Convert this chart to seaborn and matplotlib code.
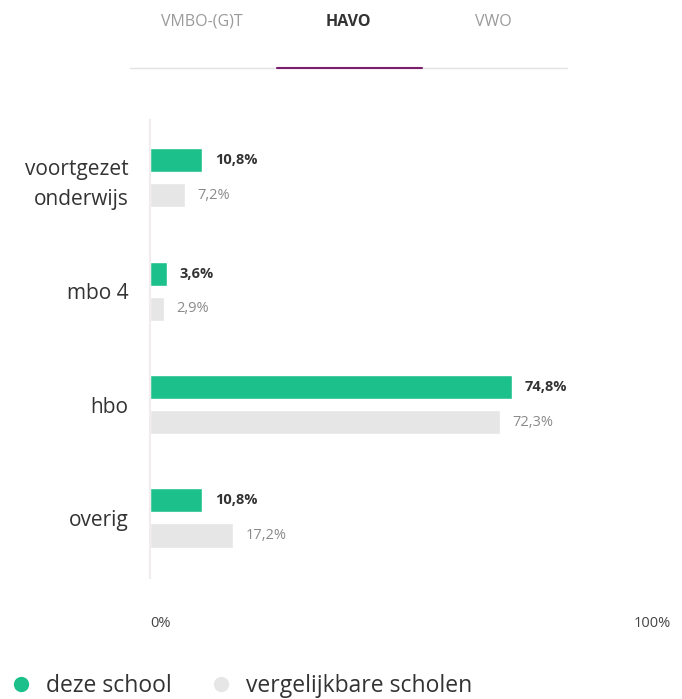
import pandas as pd
import seaborn as sns
import matplotlib.pyplot as plt
from matplotlib.lines import Line2D

# data
categories = ['voortgezet\nonderwijs', 'mbo 4', 'hbo', 'overig']
school = [10.8, 3.6, 74.8, 10.8]
vergelijk = [7.2, 2.9, 72.3, 17.2]
series = ['deze school', 'vergelijkbare scholen']
tabs = ['VMBO-(G)T', 'HAVO', 'VWO']

green = '#1CC08A'
grey = '#E6E6E6'

df = pd.DataFrame({
    'cat': categories * 2,
    'pct': school + vergelijk,
    'reeks': [series[0]] * 4 + [series[1]] * 4,
})

sns.set_style('white')
plt.rcParams['font.family'] = ['Open Sans', 'DejaVu Sans']

fig = plt.figure(figsize=(6.82, 6.99), dpi=100)
ax = fig.add_axes([0.22, 0.1731, 0.7097, 0.6552])

sns.barplot(data=df, y='cat', x='pct', hue='reeks', orient='h',
            palette=[green, grey], saturation=1, width=0.62, gap=0.314,
            legend=False, ax=ax)

ax.set_xlim(0, 100)
ax.set_ylim(3.53, -0.51)
ax.set_xlabel('')
ax.set_ylabel('')
for s in ['top', 'right', 'bottom']:
    ax.spines[s].set_visible(False)
ax.spines['left'].set_color('#F3ECEE')
ax.spines['left'].set_linewidth(1.5)
ax.set_xticks([])
ax.tick_params(axis='y', length=0, pad=15.5, labelsize=15, labelcolor='#333333')
for lab in ax.get_yticklabels():
    lab.set_linespacing(1.55)

# value labels
fmt = lambda v: f'{v:.1f}%'.replace('.', ',')
ax.bar_label(ax.containers[0], labels=[fmt(v) for v in school], padding=9,
             fontsize=10.5, fontweight='bold', color='#333333')
ax.bar_label(ax.containers[1], labels=[fmt(v) for v in vergelijk], padding=9,
             fontsize=10.5, color='#8A8A8A')

ax.text(0, -0.1, '0%', transform=ax.transAxes, fontsize=10.5,
        color='#444444', ha='left', va='center')
ax.text(1.0, -0.1, '100%', transform=ax.transAxes, fontsize=10.5,
        color='#444444', ha='left', va='center')

# tabs at the top
tab_x = [202, 348, 493]
for t, x in zip(tabs, tab_x):
    fig.text(x / 682, 1 - 22 / 699, t, ha='center', va='center', fontsize=11.5,
             color='#333333' if t == 'HAVO' else '#9A9A9A',
             fontweight='bold' if t == 'HAVO' else 'normal')
fig.add_artist(Line2D([130 / 682, 567 / 682], [1 - 68 / 699] * 2,
                      color='#E3E3E3', lw=1))
fig.add_artist(Line2D([277 / 682, 422 / 682], [1 - 68 / 699] * 2,
                      color='#7A1E6C', lw=1.5))

# legend
handles = [Line2D([], [], marker='o', ls='', markersize=10, color=c)
           for c in [green, grey]]
fig.legend(handles, series, loc='center left',
           bbox_to_anchor=(0.0, 1 - 686 / 699), ncol=2, frameon=False,
           fontsize=16.5, handletextpad=0.6, columnspacing=1.65,
           handlelength=1.0, borderaxespad=0, labelcolor='#333333')

fig.savefig('out.png', dpi=100)
